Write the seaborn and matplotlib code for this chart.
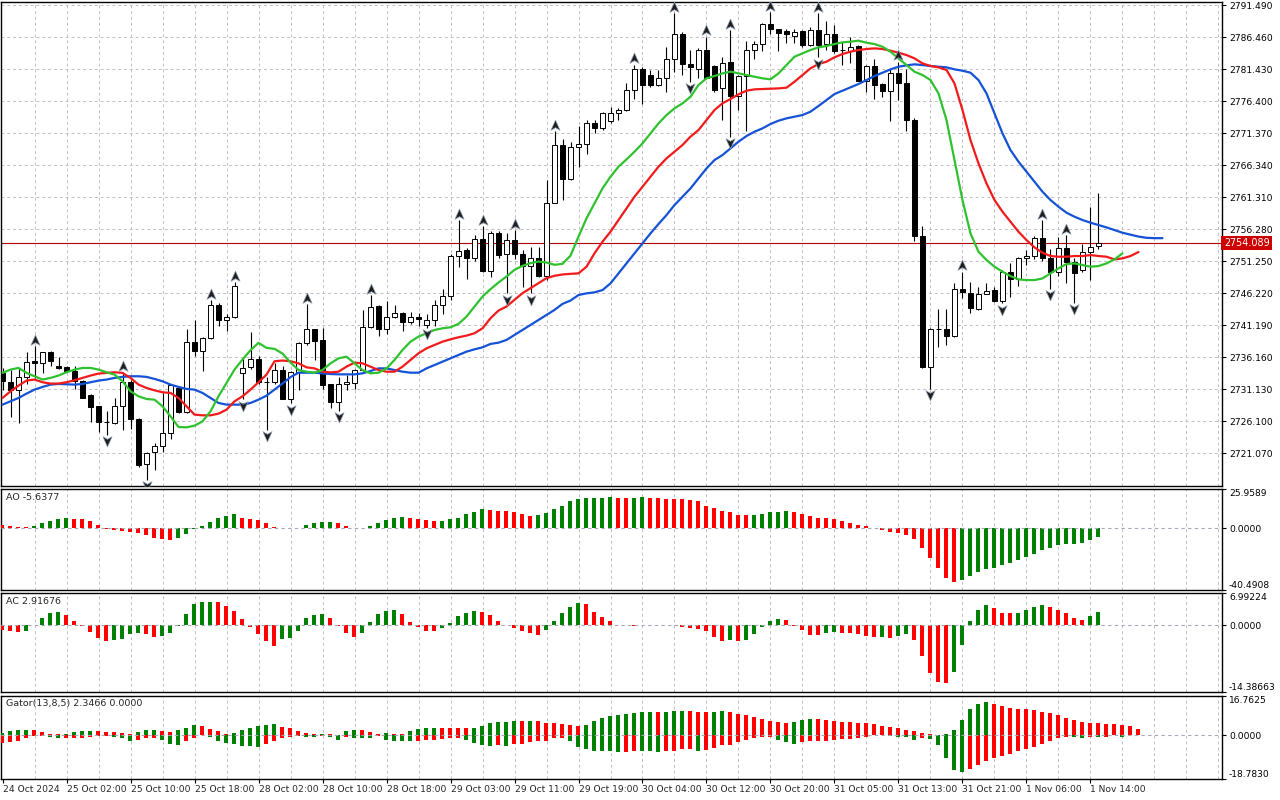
import numpy as np
import matplotlib
matplotlib.use("Agg")
import matplotlib.pyplot as plt
from matplotlib.path import Path
from matplotlib.transforms import blended_transform_factory
import seaborn as sns

sns.set_theme(style="white")
plt.rcParams["font.family"] = ["DejaVu Sans"]

# XAUUSD H1, 138 bars
opens = [
    2733.6, 2732.3, 2731.0, 2733.0, 2735.6, 2735.3, 2736.9, 2734.8, 2734.6, 2733.9,
    2732.4, 2730.15, 2728.4, 2725.9, 2725.8, 2728.5, 2732.3, 2726.4, 2719.3, 2721.2,
    2722.1, 2724.2, 2731.3, 2727.5, 2738.5, 2737.1, 2739.2, 2744.3, 2742.0, 2742.4,
    2733.7, 2734.6, 2735.8, 2732.3, 2732.2, 2734.2, 2729.6, 2733.8, 2738.3, 2740.5,
    2738.85, 2731.9, 2729.1, 2732.0, 2732.1, 2734.1, 2740.9, 2744.2, 2740.6, 2742.5,
    2743.1, 2741.7, 2742.4, 2741.2, 2742.0, 2744.3, 2745.7, 2752.1, 2753.0, 2751.7,
    2754.7, 2749.7, 2755.7, 2752.3, 2754.5, 2752.3, 2750.5, 2751.7, 2748.9, 2760.4,
    2769.5, 2764.1, 2769.2, 2769.7, 2772.9, 2772.1, 2773.2, 2774.6, 2775.0, 2778.1,
    2781.5, 2780.5, 2778.9, 2780.1, 2783.0, 2787.0, 2782.2, 2781.5, 2784.5, 2781.9,
    2778.4, 2782.6, 2777.2, 2780.3, 2784.5, 2785.4, 2788.5, 2787.7, 2787.4, 2786.6,
    2787.4, 2785.2, 2787.6, 2785.3, 2787.0, 2784.5, 2784.3, 2785.1, 2779.6, 2781.9,
    2779.1, 2778.0, 2780.8, 2779.3, 2773.5, 2755.2, 2734.6, 2740.5, 2740.5, 2739.5,
    2746.8, 2746.3, 2743.7, 2746.1, 2746.7, 2744.9, 2749.6, 2748.5, 2751.7, 2752.1,
    2754.8, 2751.8, 2749.6, 2753.3, 2751.1, 2749.9, 2752.7, 2753.6,
]
highs = [
    2734.4, 2734.2, 2734.4, 2736.9, 2737.9, 2737.0, 2737.1, 2736.1, 2734.7, 2734.7,
    2732.6, 2730.3, 2728.5, 2727.7, 2729.7, 2733.7, 2732.5, 2726.6, 2721.3, 2722.7,
    2730.5, 2731.9, 2731.4, 2740.5, 2742.0, 2739.3, 2745.1, 2744.7, 2743.0, 2747.9,
    2736.2, 2740.1, 2736.3, 2733.1, 2735.2, 2734.7, 2734.0, 2738.6, 2744.5, 2740.6,
    2740.7, 2732.0, 2733.1, 2733.3, 2734.3, 2743.5, 2745.9, 2744.3, 2744.9, 2744.4,
    2743.3, 2743.3, 2743.1, 2742.9, 2745.2, 2746.8, 2752.4, 2757.7, 2753.3, 2755.4,
    2756.7, 2755.9, 2755.9, 2755.6, 2756.1, 2753.0, 2753.5, 2753.5, 2764.0, 2771.7,
    2770.4, 2770.0, 2772.5, 2773.4, 2773.4, 2774.7, 2775.4, 2775.3, 2779.2, 2782.1,
    2781.8, 2781.3, 2781.3, 2784.9, 2790.2, 2787.3, 2784.5, 2784.7, 2786.5, 2782.1,
    2783.4, 2787.5, 2780.5, 2785.9, 2785.9, 2788.6, 2790.4, 2787.8, 2787.8, 2787.8,
    2787.6, 2788.1, 2790.2, 2789.0, 2788.4, 2785.7, 2786.5, 2785.2, 2782.0, 2783.0,
    2779.3, 2781.5, 2782.6, 2781.5, 2773.8, 2756.7, 2740.7, 2743.7, 2743.7, 2747.8,
    2749.6, 2748.0, 2747.2, 2747.8, 2747.2, 2749.8, 2750.9, 2751.9, 2753.0, 2755.2,
    2757.7, 2753.2, 2755.0, 2755.3, 2751.7, 2754.0, 2759.8, 2762.0,
]
lows = [
    2731.0, 2726.8, 2725.8, 2732.0, 2732.9, 2733.7, 2734.8, 2734.3, 2733.8, 2731.15,
    2729.7, 2726.0, 2724.3, 2723.9, 2725.7, 2724.7, 2724.85, 2718.9, 2716.9, 2718.4,
    2721.2, 2723.3, 2727.3, 2727.3, 2736.4, 2733.9, 2739.0, 2741.1, 2740.2, 2742.3,
    2729.5, 2734.3, 2732.0, 2724.7, 2732.0, 2729.5, 2728.9, 2731.0, 2738.0, 2735.7,
    2731.1, 2728.1, 2727.7, 2731.0, 2731.1, 2733.9, 2740.8, 2739.5, 2739.8, 2742.3,
    2740.2, 2741.4, 2741.0, 2740.8, 2741.0, 2743.0, 2745.2, 2750.3, 2748.4, 2751.2,
    2749.6, 2748.8, 2751.7, 2746.2, 2751.5, 2747.2, 2746.2, 2748.7, 2748.3, 2760.3,
    2760.8, 2764.0, 2766.1, 2768.1, 2771.4, 2771.9, 2773.0, 2773.4, 2774.9, 2776.8,
    2775.9, 2778.6, 2778.8, 2777.9, 2781.0, 2780.5, 2779.4, 2780.1, 2779.9, 2777.9,
    2773.5, 2770.8, 2775.0, 2771.7, 2783.0, 2784.3, 2787.0, 2784.3, 2785.5, 2785.5,
    2784.9, 2785.0, 2783.3, 2784.5, 2784.0, 2782.1, 2782.4, 2779.5, 2777.9, 2776.8,
    2777.0, 2773.2, 2776.6, 2771.7, 2754.4, 2734.5, 2731.2, 2737.8, 2738.1, 2739.3,
    2745.5, 2743.1, 2743.6, 2746.0, 2744.8, 2744.6, 2745.6, 2747.3, 2750.6, 2751.5,
    2751.2, 2746.9, 2748.9, 2747.8, 2744.7, 2749.6, 2748.3, 2753.2,
]
closes = [
    2732.4, 2731.0, 2733.0, 2735.4, 2735.3, 2736.9, 2735.5, 2734.5, 2734.0, 2732.35,
    2729.8, 2728.3, 2725.9, 2726.0, 2728.5, 2732.3, 2726.4, 2719.2, 2721.1, 2722.2,
    2724.2, 2731.8, 2727.5, 2738.5, 2737.1, 2739.2, 2744.3, 2742.0, 2742.5, 2747.4,
    2734.5, 2735.8, 2732.2, 2732.2, 2734.2, 2729.6, 2733.8, 2738.3, 2740.5, 2738.7,
    2731.76, 2729.1, 2732.0, 2732.2, 2734.2, 2740.9, 2744.1, 2740.6, 2742.5, 2743.1,
    2741.7, 2742.4, 2742.1, 2742.0, 2744.3, 2745.7, 2752.1, 2752.8, 2751.7, 2754.7,
    2749.7, 2755.7, 2752.2, 2754.5, 2752.3, 2750.5, 2751.7, 2748.9, 2760.4, 2769.5,
    2764.1, 2769.2, 2769.7, 2772.9, 2772.1, 2774.5, 2774.5, 2775.0, 2778.1, 2781.5,
    2778.9, 2778.9, 2780.0, 2783.0, 2787.0, 2782.2, 2781.8, 2784.5, 2780.0, 2778.2,
    2782.4, 2777.2, 2780.3, 2784.5, 2785.4, 2788.5, 2787.7, 2787.1, 2787.0, 2787.3,
    2785.2, 2787.6, 2785.2, 2787.0, 2784.3, 2784.4, 2784.9, 2779.6, 2781.9, 2779.0,
    2778.0, 2780.8, 2779.3, 2773.5, 2755.2, 2734.6, 2740.5, 2740.6, 2739.5, 2746.8,
    2746.4, 2743.8, 2746.0, 2746.6, 2744.9, 2749.6, 2748.5, 2751.7, 2752.1, 2754.8,
    2751.8, 2749.6, 2753.3, 2751.1, 2749.4, 2752.7, 2753.5, 2754.089,
]

# Alligator lines as drawn (already shifted: jaw +8, teeth +5, lips +3 bars)
jaw = [
    2728.68, 2729.20, 2729.73, 2730.41, 2731.04, 2731.46, 2731.83, 2731.93, 2731.88, 2731.83,
    2731.93, 2732.19, 2732.46, 2732.62, 2732.88, 2733.04, 2733.14, 2733.14, 2733.04, 2732.72,
    2732.35, 2731.83, 2731.46, 2731.15, 2731.04, 2730.52, 2729.73, 2728.94, 2728.68, 2728.68,
    2728.68, 2728.94, 2729.46, 2730.09, 2731.04, 2732.0, 2733.0, 2733.70, 2733.70, 2733.70,
    2733.60, 2733.49, 2733.44, 2733.44, 2733.44, 2733.60, 2733.96, 2734.38, 2734.38, 2734.12,
    2733.86, 2733.70, 2733.70, 2734.38, 2734.91, 2735.43, 2735.96, 2736.48, 2737.01, 2737.37,
    2737.69, 2738.22, 2738.42, 2738.85, 2739.63, 2740.42, 2741.21, 2741.99, 2742.78, 2743.57,
    2744.52, 2745.04, 2745.91, 2746.17, 2746.33, 2746.69, 2747.74, 2749.31, 2750.88, 2752.46,
    2754.03, 2755.60, 2757.07, 2758.48, 2760.05, 2761.36, 2762.67, 2764.25, 2765.81, 2767.13,
    2767.91, 2768.96, 2770.01, 2770.90, 2771.58, 2772.11, 2772.79, 2773.31, 2773.68, 2773.94,
    2774.20, 2774.73, 2775.62, 2776.56, 2777.50, 2778.03, 2778.55, 2779.08, 2779.70, 2780.33,
    2780.86, 2781.38, 2781.80, 2782.01, 2782.17, 2782.06, 2781.90, 2781.80, 2781.70, 2781.38,
    2781.17, 2780.86, 2779.70, 2777.61, 2774.46, 2771.32, 2768.70, 2766.87, 2765.29, 2763.72,
    2762.15, 2760.84, 2759.79, 2758.85, 2758.22, 2757.70, 2757.28, 2756.91, 2756.54, 2756.12,
    2755.70, 2755.4, 2755.1, 2754.9, 2754.85, 2754.85,
]
teeth = [
    2729.73, 2730.78, 2731.67, 2732.46, 2732.62, 2732.20, 2731.99, 2731.99, 2732.20, 2732.51,
    2732.88, 2733.25, 2733.56, 2733.67, 2733.77, 2733.67, 2732.88, 2731.83, 2731.30, 2730.93,
    2730.62, 2730.52, 2729.73, 2728.42, 2727.11, 2727.00, 2727.00, 2727.26, 2727.89, 2729.20,
    2729.99, 2731.04, 2732.20, 2733.40, 2735.50, 2735.61, 2735.50, 2735.17, 2734.54, 2734.38,
    2733.86, 2733.75, 2733.86, 2734.65, 2735.28, 2735.17, 2734.65, 2734.12, 2733.86, 2733.86,
    2734.65, 2735.70, 2736.75, 2737.53, 2738.06, 2738.58, 2738.95, 2739.27, 2739.53, 2739.90,
    2740.68, 2742.26, 2743.47, 2744.10, 2745.15, 2746.20, 2746.98, 2747.77, 2748.56, 2748.93,
    2749.14, 2749.24, 2749.31, 2750.36, 2752.46, 2754.29, 2755.86, 2757.70, 2759.53, 2761.36,
    2762.94, 2764.51, 2766.08, 2767.39, 2768.44, 2769.49, 2770.80, 2771.84, 2773.42, 2774.99,
    2776.04, 2776.72, 2777.45, 2778.03, 2778.24, 2778.29, 2778.34, 2778.39, 2778.50, 2779.44,
    2780.49, 2781.54, 2782.22, 2782.59, 2783.27, 2783.79, 2784.16, 2784.42, 2784.58, 2784.68,
    2784.58, 2784.32, 2784.00, 2783.63, 2783.11, 2782.32, 2781.91, 2781.70, 2781.28, 2779.18,
    2774.99, 2770.27, 2766.60, 2763.46, 2760.84, 2759.01, 2757.43, 2755.86, 2754.55, 2753.40,
    2752.56, 2752.04, 2751.93, 2751.93, 2752.04, 2752.04, 2752.19, 2752.04, 2751.93, 2751.51,
    2751.67, 2752.04, 2752.67,
]
lips = [
    2733.67, 2734.19, 2734.45, 2733.67, 2733.14, 2732.62, 2732.88, 2733.25, 2733.77, 2734.19,
    2734.45, 2734.45, 2734.19, 2733.77, 2733.40, 2732.35, 2730.78, 2729.99, 2729.57, 2729.46,
    2728.42, 2726.84, 2725.16, 2725.11, 2725.37, 2726.05, 2727.63, 2729.99, 2732.09, 2734.19,
    2735.77, 2737.24, 2738.39, 2737.60, 2737.45, 2736.71, 2735.3, 2734.12, 2733.86, 2733.70,
    2734.12, 2735.17, 2735.96, 2736.22, 2735.17, 2734.12, 2733.60, 2733.70, 2734.38, 2735.70,
    2737.27, 2738.58, 2739.37, 2739.90, 2740.42, 2740.68, 2740.84, 2741.37, 2742.52, 2744.10,
    2745.67, 2746.83, 2747.88, 2748.82, 2749.87, 2750.50, 2750.92, 2751.18, 2751.02, 2750.66,
    2750.81, 2752.1, 2755.08, 2757.96, 2760.32, 2762.67, 2764.51, 2766.08, 2767.23, 2768.44,
    2769.75, 2771.32, 2772.89, 2774.20, 2775.25, 2776.04, 2777.08, 2778.92, 2779.97, 2780.33,
    2780.75, 2781.02, 2780.75, 2780.49, 2780.23, 2779.97, 2779.81, 2780.75, 2782.06, 2783.37,
    2783.90, 2784.42, 2784.84, 2785.05, 2785.36, 2785.63, 2785.73, 2785.89, 2785.57, 2785.36,
    2784.94, 2784.16, 2783.11, 2782.06, 2781.01, 2780.49, 2779.70, 2777.61, 2773.42, 2767.13,
    2760.84, 2755.60, 2752.72, 2751.41, 2750.36, 2749.57, 2748.89, 2748.37, 2748.26, 2748.26,
    2748.52, 2749.31, 2750.10, 2750.78, 2750.88, 2750.62, 2750.36, 2750.46, 2750.88, 2751.51,
    2752.46,
]

fractal_up = [4, 15, 26, 29, 38, 46, 57, 60, 64, 69, 79, 84, 88, 91, 96, 102, 112, 120, 130, 133]
fractal_down = [13, 18, 30, 33, 36, 42, 53, 63, 66, 86, 91, 102, 116, 125, 131, 134]

ao = [
    2.2, 1.5, 1.1, 0.7, 1.3, 3.5, 4.8, 5.9, 6.6, 6.5,
    5.9, 4.8, 2.2, -0.3, -1.1, -1.8, -2.6, -3.1, -4.4, -6.4,
    -7.2, -7.7, -6.4, -3.7, -0.4, 1.3, 4.2, 6.6, 7.9, 9.2,
    6.6, 5.9, 5.7, 3.5, 0.7, 0.4, 0.1, 0.2, 2.2, 3.5,
    4.2, 4.3, 3.5, 1.3, 0.2, 0.1, 1.8, 3.9, 5.3, 7.2,
    7.3, 6.6, 5.9, 5.3, 4.6, 4.7, 5.9, 7.2, 9.2, 10.7,
    12.5, 12.4, 11.8, 11.2, 10.5, 9.2, 7.9, 8.8, 10.1, 12.5,
    15.1, 17.8, 19.7, 19.8, 20.2, 20.3, 20.4, 20.3, 20.2, 20.3,
    20.4, 20.3, 19.8, 19.7, 19.6, 19.1, 18.4, 17.8, 15.1, 13.2,
    11.8, 10.5, 8.65, 8.55, 8.7, 9.2, 10.5, 10.6, 11.2, 10.5,
    9.2, 7.9, 7.2, 6.6, 5.9, 4.6, 3.9, 2.6, 1.3, 0.05,
    -1.1, -2.4, -3.3, -4.4, -7.2, -12.9, -19.5, -26.1, -32.7, -35.5,
    -34.0, -31.1, -28.7, -26.8, -25.7, -24.1, -22.8, -20.8, -18.9, -16.9,
    -14.3, -12.9, -11.0, -10.3, -10.2, -9.6, -7.7, -5.64,
]
ac = [
    -0.9, -1.28, -1.43, -1.21, 0.05, 1.50, 2.57, 2.99, 2.14, 0.86,
    -0.05, -1.43, -2.71, -3.35, -3.14, -2.92, -1.85, -1.64, -1.85, -2.49,
    -2.28, -1.64, -0.1, 2.35, 4.70, 4.99, 5.13, 5.10, 4.28, 3.21,
    1.28, -0.29, -1.78, -3.35, -4.42, -2.92, -2.71, -1.21, 1.50, 2.14,
    2.35, 1.50, -0.05, -1.64, -2.49, -1.64, 0.64, 2.35, 3.21, 3.42,
    2.35, 0.64, -0.36, -1.21, -1.25, -0.57, 0.43, 1.92, 2.78, 3.21,
    2.99, 2.14, 0.86, 0.05, -0.57, -1.21, -1.64, -2.07, -1.00, 0.86,
    2.57, 4.06, 4.92, 4.70, 2.99, 1.71, 0.86, 0.05, 0.02, -0.03,
    0.04, 0.01, -0.02, 0.03, 0.0, -0.36, -0.57, -0.78, -1.21, -2.49,
    -3.35, -3.14, -3.35, -3.14, -1.85, -0.36, 0.86, 1.28, 1.25, -0.1,
    -1.00, -2.07, -2.10, -1.64, -1.43, -1.64, -1.70, -1.85, -2.28, -2.49,
    -2.45, -2.71, -2.28, -1.85, -3.14, -6.56, -10.19, -12.33, -12.54, -9.98,
    -4.21, 0.86, 3.42, 4.49, 3.85, 2.78, 2.57, 2.78, 3.42, 4.06,
    4.49, 4.06, 3.42, 2.78, 1.50, 1.07, 1.92, 2.92,
]
gator_up = [
    0.9, 1.9, 2.3, 2.35, 2.25, 1.4, 0.6, 0.45, 0.5, 1.4,
    1.85, 1.9, 1.85, 1.4, 1.35, 0.85, 0.3, 1.4, 2.3, 2.35,
    1.9, 1.4, 2.3, 3.1, 4.4, 4.0, 2.7, 1.9, 0.6, 0.85,
    2.3, 3.1, 4.0, 4.4, 4.9, 3.6, 3.1, 1.9, 0.85, 0.4,
    0.55, 0.3, 0.2, 1.9, 2.3, 2.25, 1.4, 0.6, 0.85, 0.6,
    0.55, 1.9, 2.7, 3.1, 3.15, 3.1, 3.05, 3.0, 2.95, 3.0,
    4.0, 5.3, 5.7, 5.75, 6.1, 6.05, 6.1, 6.05, 5.3, 5.25,
    4.9, 4.4, 4.0, 4.4, 6.1, 7.4, 8.3, 8.7, 9.1, 9.6,
    10.0, 10.05, 10.0, 10.05, 10.4, 10.45, 10.4, 10.0, 9.95, 10.0,
    10.4, 10.0, 9.1, 8.7, 7.9, 7.0, 6.1, 5.7, 5.3, 5.7,
    6.6, 7.0, 6.95, 6.6, 6.1, 5.7, 5.65, 5.3, 5.25, 4.9,
    4.0, 3.6, 3.1, 2.3, 1.9, 1.0, 0.55, 0.05, 0.6, 2.3,
    6.6, 11.3, 13.4, 14.3, 13.4, 12.6, 11.7, 11.3, 11.25, 10.9,
    10.0, 9.6, 8.7, 7.4, 6.6, 5.7, 5.3, 5.25, 4.9, 4.85,
    4.4, 4.0, 2.7,
]
gator_down = [
    3.3, 3.1, 2.7, 1.1, 0.4, 0.2, 0.6, 1.4, 1.35, 1.15,
    1.1, 0.6, 0.3, 0.2, 0.6, 1.4, 2.3, 1.9, 1.1, 1.05,
    1.9, 3.7, 4.1, 2.7, 1.1, 0.1, 0.6, 2.3, 3.3, 3.7,
    4.8, 4.85, 4.9, 3.7, 2.7, 1.1, 0.6, 0.3, 0.6, 0.8,
    0.3, 1.0, 1.9, 1.0, 1.05, 1.1, 1.15, 0.3, 1.9, 2.3,
    2.35, 2.4, 2.3, 2.25, 1.9, 1.85, 1.4, 1.35, 1.9, 3.3,
    4.4, 4.45, 4.4, 4.45, 4.0, 3.95, 3.1, 2.7, 2.3, 1.4,
    1.35, 2.3, 4.9, 6.1, 6.6, 6.9, 7.0, 7.4, 7.35, 6.9,
    6.95, 7.0, 7.05, 6.9, 6.6, 5.9, 5.85, 6.6, 6.55, 5.3,
    4.4, 4.35, 3.1, 1.9, 1.4, 1.0, 0.95, 1.9, 3.1, 3.6,
    3.1, 2.7, 2.65, 2.3, 1.9, 1.85, 1.8, 1.4, 0.6, 0.15,
    0.1, 0.2, 0.6, 1.0, 1.9, 1.4, 1.45, 4.4, 10.0, 15.1,
    15.6, 14.3, 13.0, 10.9, 9.6, 9.1, 7.9, 7.0, 6.1, 4.9,
    4.0, 2.7, 1.4, 0.6, 1.0, 1.05, 0.6, 1.0, 0.95, 0.15,
    0.6,
]

price_ticks = [2791.49, 2786.46, 2781.43, 2776.40, 2771.37, 2766.34, 2761.31, 2756.28,
               2751.25, 2746.22, 2741.19, 2736.16, 2731.13, 2726.10, 2721.07]
time_labels = ["24 Oct 2024", "25 Oct 02:00", "25 Oct 10:00", "25 Oct 18:00",
               "28 Oct 02:00", "28 Oct 10:00", "28 Oct 18:00", "29 Oct 03:00",
               "29 Oct 11:00", "29 Oct 19:00", "30 Oct 04:00", "30 Oct 12:00",
               "30 Oct 20:00", "31 Oct 05:00", "31 Oct 13:00", "31 Oct 21:00",
               "1 Nov 06:00", "1 Nov 14:00"]
last_price = 2754.089

GREEN, RED = "#008000", "#ff0000"
GRID = dict(color="#c6bac8", lw=0.7, ls=(0, (3, 3)), zorder=0)
FS = 6.6
W, H = 1280, 800

fig = plt.figure(figsize=(W / 100, H / 100), dpi=100)


def panel(top, bottom):
    return fig.add_axes([1 / W, 1 - bottom / H, 1221 / W, (bottom - top) / H])


ax_main = panel(2, 486)
ax_ao = panel(489, 590)
ax_ac = panel(593, 692)
ax_gt = panel(696, 779)

for ax in (ax_main, ax_ao, ax_ac, ax_gt):
    ax.set_xlim(-0.19, 152.44)
    for s in ax.spines.values():
        s.set_color("black")
        s.set_linewidth(1.0)
    for xv in range(4, 153, 4):
        ax.axvline(xv, **GRID)
    ax.yaxis.tick_right()
    ax.tick_params(axis="y", right=True, left=False, length=3, width=0.8, color="black",
                   labelsize=FS, pad=2, labelcolor="black")
    ax.tick_params(axis="x", bottom=False, labelbottom=False)

# main chart
o, h, l, c = map(np.array, (opens, highs, lows, closes))
bars = np.arange(len(c))
for v in price_ticks:
    ax_main.axhline(v, **GRID)
ax_main.vlines(bars, l, h, color="black", lw=0.8, zorder=3)
ax_main.bar(bars, np.maximum(np.abs(c - o), 0.06), bottom=np.minimum(o, c), width=0.52,
            color=np.where(c >= o, "white", "black"), edgecolor="black", lw=0.7, zorder=4)

sns.lineplot(x=np.arange(len(jaw)), y=jaw, ax=ax_main, color="#1452d6", lw=1.6, zorder=5)
sns.lineplot(x=np.arange(len(teeth)), y=teeth, ax=ax_main, color="#f21a1a", lw=1.6, zorder=5)
sns.lineplot(x=np.arange(len(lips)), y=lips, ax=ax_main, color="#2fc22f", lw=1.6, zorder=5)

arrow_up = Path([(0, 1), (0.85, -0.9), (0, -0.4), (-0.85, -0.9), (0, 1)],
                [Path.MOVETO, Path.LINETO, Path.LINETO, Path.LINETO, Path.CLOSEPOLY])
arrow_dn = Path([(0, -1), (0.85, 0.9), (0, 0.4), (-0.85, 0.9), (0, -1)],
                [Path.MOVETO, Path.LINETO, Path.LINETO, Path.LINETO, Path.CLOSEPOLY])
ax_main.scatter(fractal_up, h[fractal_up] + 1.0, marker=arrow_up, s=60, c="#1e1e1e",
                edgecolors="#8c9bb0", linewidths=0.5, zorder=6)
ax_main.scatter(fractal_down, l[fractal_down] - 1.0, marker=arrow_dn, s=60, c="#1e1e1e",
                edgecolors="#8c9bb0", linewidths=0.5, zorder=6)

ax_main.axhline(last_price, color="#b00000", lw=0.8, zorder=2)
ax_main.text(1.0015, last_price, f"{last_price:.3f}", color="white", fontsize=FS + 0.3,
             va="center", ha="left",
             transform=blended_transform_factory(ax_main.transAxes, ax_main.transData),
             bbox=dict(boxstyle="square,pad=0.25", fc="#cc0000", ec="none"), clip_on=False)
ax_main.set_ylim(2715.89, 2791.97)
ax_main.set_yticks(price_ticks)
ax_main.set_yticklabels([f"{v:.3f}" for v in price_ticks])


def change_colors(vals, first):
    cols = [first]
    for a, b in zip(vals[:-1], vals[1:]):
        cols.append(GREEN if b > a else RED)
    return cols


def indicator(ax, title, lo, hi, lo_txt, hi_txt):
    ax.axhline(0, color="#a4a8b8", lw=0.8, ls=(0, (3, 3)), zorder=4)
    ax.set_ylim(lo, hi)
    ax.set_yticks([hi, 0, lo])
    labels = ax.set_yticklabels([hi_txt, "0.0000", lo_txt])
    # keep the edge values inside their own panel
    labels[0].set_va("top")
    labels[2].set_va("bottom")
    ax.text(0.004, 0.96, title, transform=ax.transAxes, va="top", ha="left", fontsize=FS + 0.2)


ax_ao.bar(np.arange(len(ao)) - 0.12, ao, width=0.5, color=change_colors(ao, RED), lw=0, zorder=3)
indicator(ax_ao, "AO -5.6377", -40.4908, 25.9589, "-40.4908", "25.9589")

ax_ac.bar(np.arange(len(ac)) - 0.12, ac, width=0.5, color=change_colors(ac, RED), lw=0, zorder=3)
indicator(ax_ac, "AC 2.91676", -14.38663, 6.99224, "-14.38663", "6.99224")

ax_gt.bar(np.arange(len(gator_up)) - 0.12, gator_up, width=0.5,
          color=change_colors(gator_up, GREEN), lw=0, zorder=3)
ax_gt.bar(np.arange(len(gator_down)) - 0.12, -np.array(gator_down), width=0.5,
          color=change_colors(gator_down, RED), lw=0, zorder=3)
indicator(ax_gt, "Gator(13,8,5) 2.3466 0.0000", -18.7830, 16.7625, "-18.7830", "16.7625")

ax_gt.set_xticks(np.arange(0, 8 * len(time_labels), 8))
ax_gt.set_xticklabels(time_labels, ha="left")
ax_gt.tick_params(axis="x", bottom=True, labelbottom=True, length=3, width=0.8, color="black",
                  labelsize=FS, pad=1.5)

fig.savefig("out.png", dpi=100)
